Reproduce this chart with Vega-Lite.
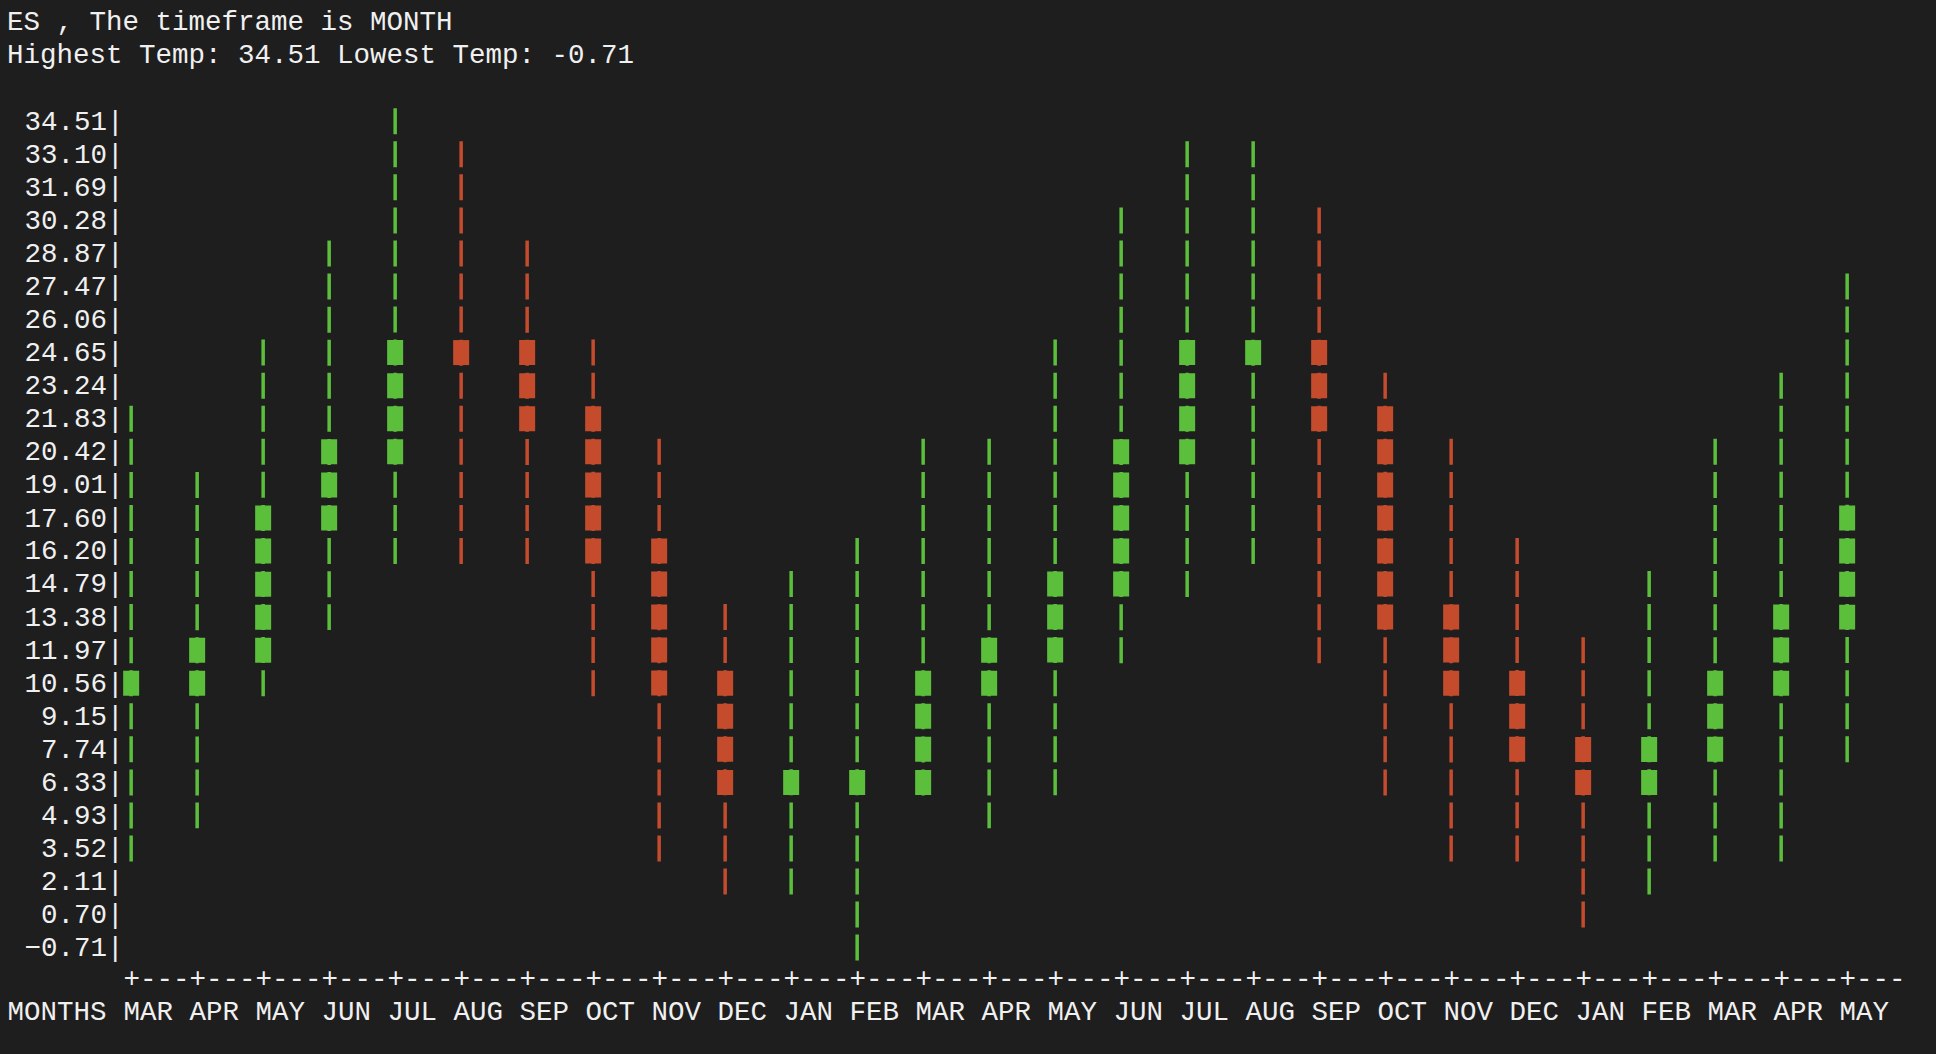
{
  "$schema": "https://vega.github.io/schema/vega-lite/v6.json",
  "autosize": {"type": "none"},
  "width": 1813,
  "height": 826.5,
  "padding": {"left": 123, "top": 121.2, "right": 0, "bottom": 106.3},
  "background": "#1e1e1e",
  "config": {"view": {"stroke": null}, "axis": {"labelOverlap": false}},
  "title": {
    "text": ["ES , The timeframe is MONTH", "Highest Temp: 34.51 Lowest Temp: -0.71"],
    "anchor": "start",
    "frame": "group",
    "orient": "top",
    "dx": -116,
    "offset": 37.5,
    "font": "Liberation Mono",
    "fontSize": 27.5,
    "fontWeight": "normal",
    "color": "#f0f0f0",
    "lineHeight": 33.06
  },
  "data": {
    "values": [
      {"month": "2022-03", "trend": "up", "low": 3.52, "high": 21.83, "open": 10.56, "close": 10.56},
      {"month": "2022-04", "trend": "up", "low": 4.93, "high": 19.01, "open": 10.56, "close": 11.97},
      {"month": "2022-05", "trend": "up", "low": 10.56, "high": 24.65, "open": 11.97, "close": 17.60},
      {"month": "2022-06", "trend": "up", "low": 13.38, "high": 28.87, "open": 17.60, "close": 20.42},
      {"month": "2022-07", "trend": "up", "low": 16.20, "high": 34.51, "open": 20.42, "close": 24.65},
      {"month": "2022-08", "trend": "down", "low": 16.20, "high": 33.10, "open": 24.65, "close": 24.65},
      {"month": "2022-09", "trend": "down", "low": 16.20, "high": 28.87, "open": 24.65, "close": 21.83},
      {"month": "2022-10", "trend": "down", "low": 10.56, "high": 24.65, "open": 21.83, "close": 16.20},
      {"month": "2022-11", "trend": "down", "low": 3.52, "high": 20.42, "open": 16.20, "close": 10.56},
      {"month": "2022-12", "trend": "down", "low": 2.11, "high": 13.38, "open": 10.56, "close": 6.33},
      {"month": "2023-01", "trend": "up", "low": 2.11, "high": 14.79, "open": 6.33, "close": 6.33},
      {"month": "2023-02", "trend": "up", "low": -0.71, "high": 16.20, "open": 6.33, "close": 6.33},
      {"month": "2023-03", "trend": "up", "low": 6.33, "high": 20.42, "open": 6.33, "close": 10.56},
      {"month": "2023-04", "trend": "up", "low": 4.93, "high": 20.42, "open": 10.56, "close": 11.97},
      {"month": "2023-05", "trend": "up", "low": 6.33, "high": 24.65, "open": 11.97, "close": 14.79},
      {"month": "2023-06", "trend": "up", "low": 11.97, "high": 30.28, "open": 14.79, "close": 20.42},
      {"month": "2023-07", "trend": "up", "low": 14.79, "high": 33.10, "open": 20.42, "close": 24.65},
      {"month": "2023-08", "trend": "up", "low": 16.20, "high": 33.10, "open": 24.65, "close": 24.65},
      {"month": "2023-09", "trend": "down", "low": 11.97, "high": 30.28, "open": 24.65, "close": 21.83},
      {"month": "2023-10", "trend": "down", "low": 6.33, "high": 23.24, "open": 21.83, "close": 13.38},
      {"month": "2023-11", "trend": "down", "low": 3.52, "high": 20.42, "open": 13.38, "close": 10.56},
      {"month": "2023-12", "trend": "down", "low": 3.52, "high": 16.20, "open": 10.56, "close": 7.74},
      {"month": "2024-01", "trend": "down", "low": 0.70, "high": 11.97, "open": 7.74, "close": 6.33},
      {"month": "2024-02", "trend": "up", "low": 2.11, "high": 14.79, "open": 6.33, "close": 7.74},
      {"month": "2024-03", "trend": "up", "low": 3.52, "high": 20.42, "open": 7.74, "close": 10.56},
      {"month": "2024-04", "trend": "up", "low": 3.52, "high": 23.24, "open": 10.56, "close": 13.38},
      {"month": "2024-05", "trend": "up", "low": 7.74, "high": 27.47, "open": 13.38, "close": 17.60}
    ]
  },
  "encoding": {
    "x": {
      "field": "month",
      "type": "ordinal",
      "scale": {"type": "point", "range": [8.15, 1724.15], "padding": 0},
      "axis": {
        "orient": "bottom",
        "domain": false,
        "ticks": false,
        "tickSize": 0,
        "grid": false,
        "labelAngle": 0,
        "labelAlign": "left",
        "labelBaseline": "top",
        "labelOffset": -8.25,
        "labelPadding": 16.5,
        "labelLineHeight": 33.06,
        "labelFont": "Liberation Mono",
        "labelFontSize": 27.5,
        "labelColor": "#f0f0f0",
        "labelOverlap": false,
        "labelFlush": false,
        "labelBound": false,
        "labelExpr": "['+---', upper(utcFormat(toDate(datum.value + '-15'), '%b'))]",
        "title": "MONTHS",
        "titleX": -116,
        "titleY": 71.5,
        "titleAlign": "left",
        "titleAnchor": "start",
        "titleBaseline": "alphabetic",
        "titleFont": "Liberation Mono",
        "titleFontSize": 27.5,
        "titleFontWeight": "normal",
        "titleColor": "#f0f0f0"
      }
    },
    "color": {
      "field": "trend",
      "type": "nominal",
      "scale": {"domain": ["up", "down"], "range": ["#5bbf3c", "#c54b2d"]},
      "legend": null
    }
  },
  "layer": [
    {
      "mark": {"type": "rule", "strokeWidth": 3.5, "strokeDash": [26, 7.06], "yOffset": -13, "y2Offset": 13},
      "encoding": {
        "y": {
          "field": "high",
          "type": "quantitative",
          "scale": {"domain": [-0.71, 34.51], "nice": false, "zero": false},
          "axis": {
            "values": [-0.71, 0.70, 2.11, 3.52, 4.93, 6.33, 7.74, 9.15, 10.56, 11.97, 13.38, 14.79, 16.20, 17.60, 19.01, 20.42, 21.83, 23.24, 24.65, 26.06, 27.47, 28.87, 30.28, 31.69, 33.10, 34.51],
            "tickCount": 40,
            "format": ".2f",
            "labelExpr": "datum.label + '|'",
            "domain": false,
            "ticks": false,
            "tickSize": 0,
            "grid": false,
            "labelPadding": 0,
            "labelAlign": "right",
            "labelBaseline": "middle",
            "labelFont": "Liberation Mono",
            "labelFontSize": 27.5,
            "labelColor": "#f0f0f0",
            "labelOverlap": false,
            "labelFlush": false,
            "labelBound": false,
            "title": null
          }
        },
        "y2": {"field": "low"}
      }
    },
    {
      "transform": [{"filter": "datum.trend == 'up'"}],
      "mark": {"type": "rule", "strokeWidth": 16, "strokeDash": [25, 8.06], "yOffset": -12.5, "y2Offset": 12.5},
      "encoding": {
        "y": {"field": "close", "type": "quantitative"},
        "y2": {"field": "open"}
      }
    },
    {
      "transform": [{"filter": "datum.trend == 'down'"}],
      "mark": {"type": "rule", "strokeWidth": 16, "strokeDash": [25, 8.06], "yOffset": -12.5, "y2Offset": 12.5},
      "encoding": {
        "y": {"field": "open", "type": "quantitative"},
        "y2": {"field": "close"}
      }
    }
  ]
}
